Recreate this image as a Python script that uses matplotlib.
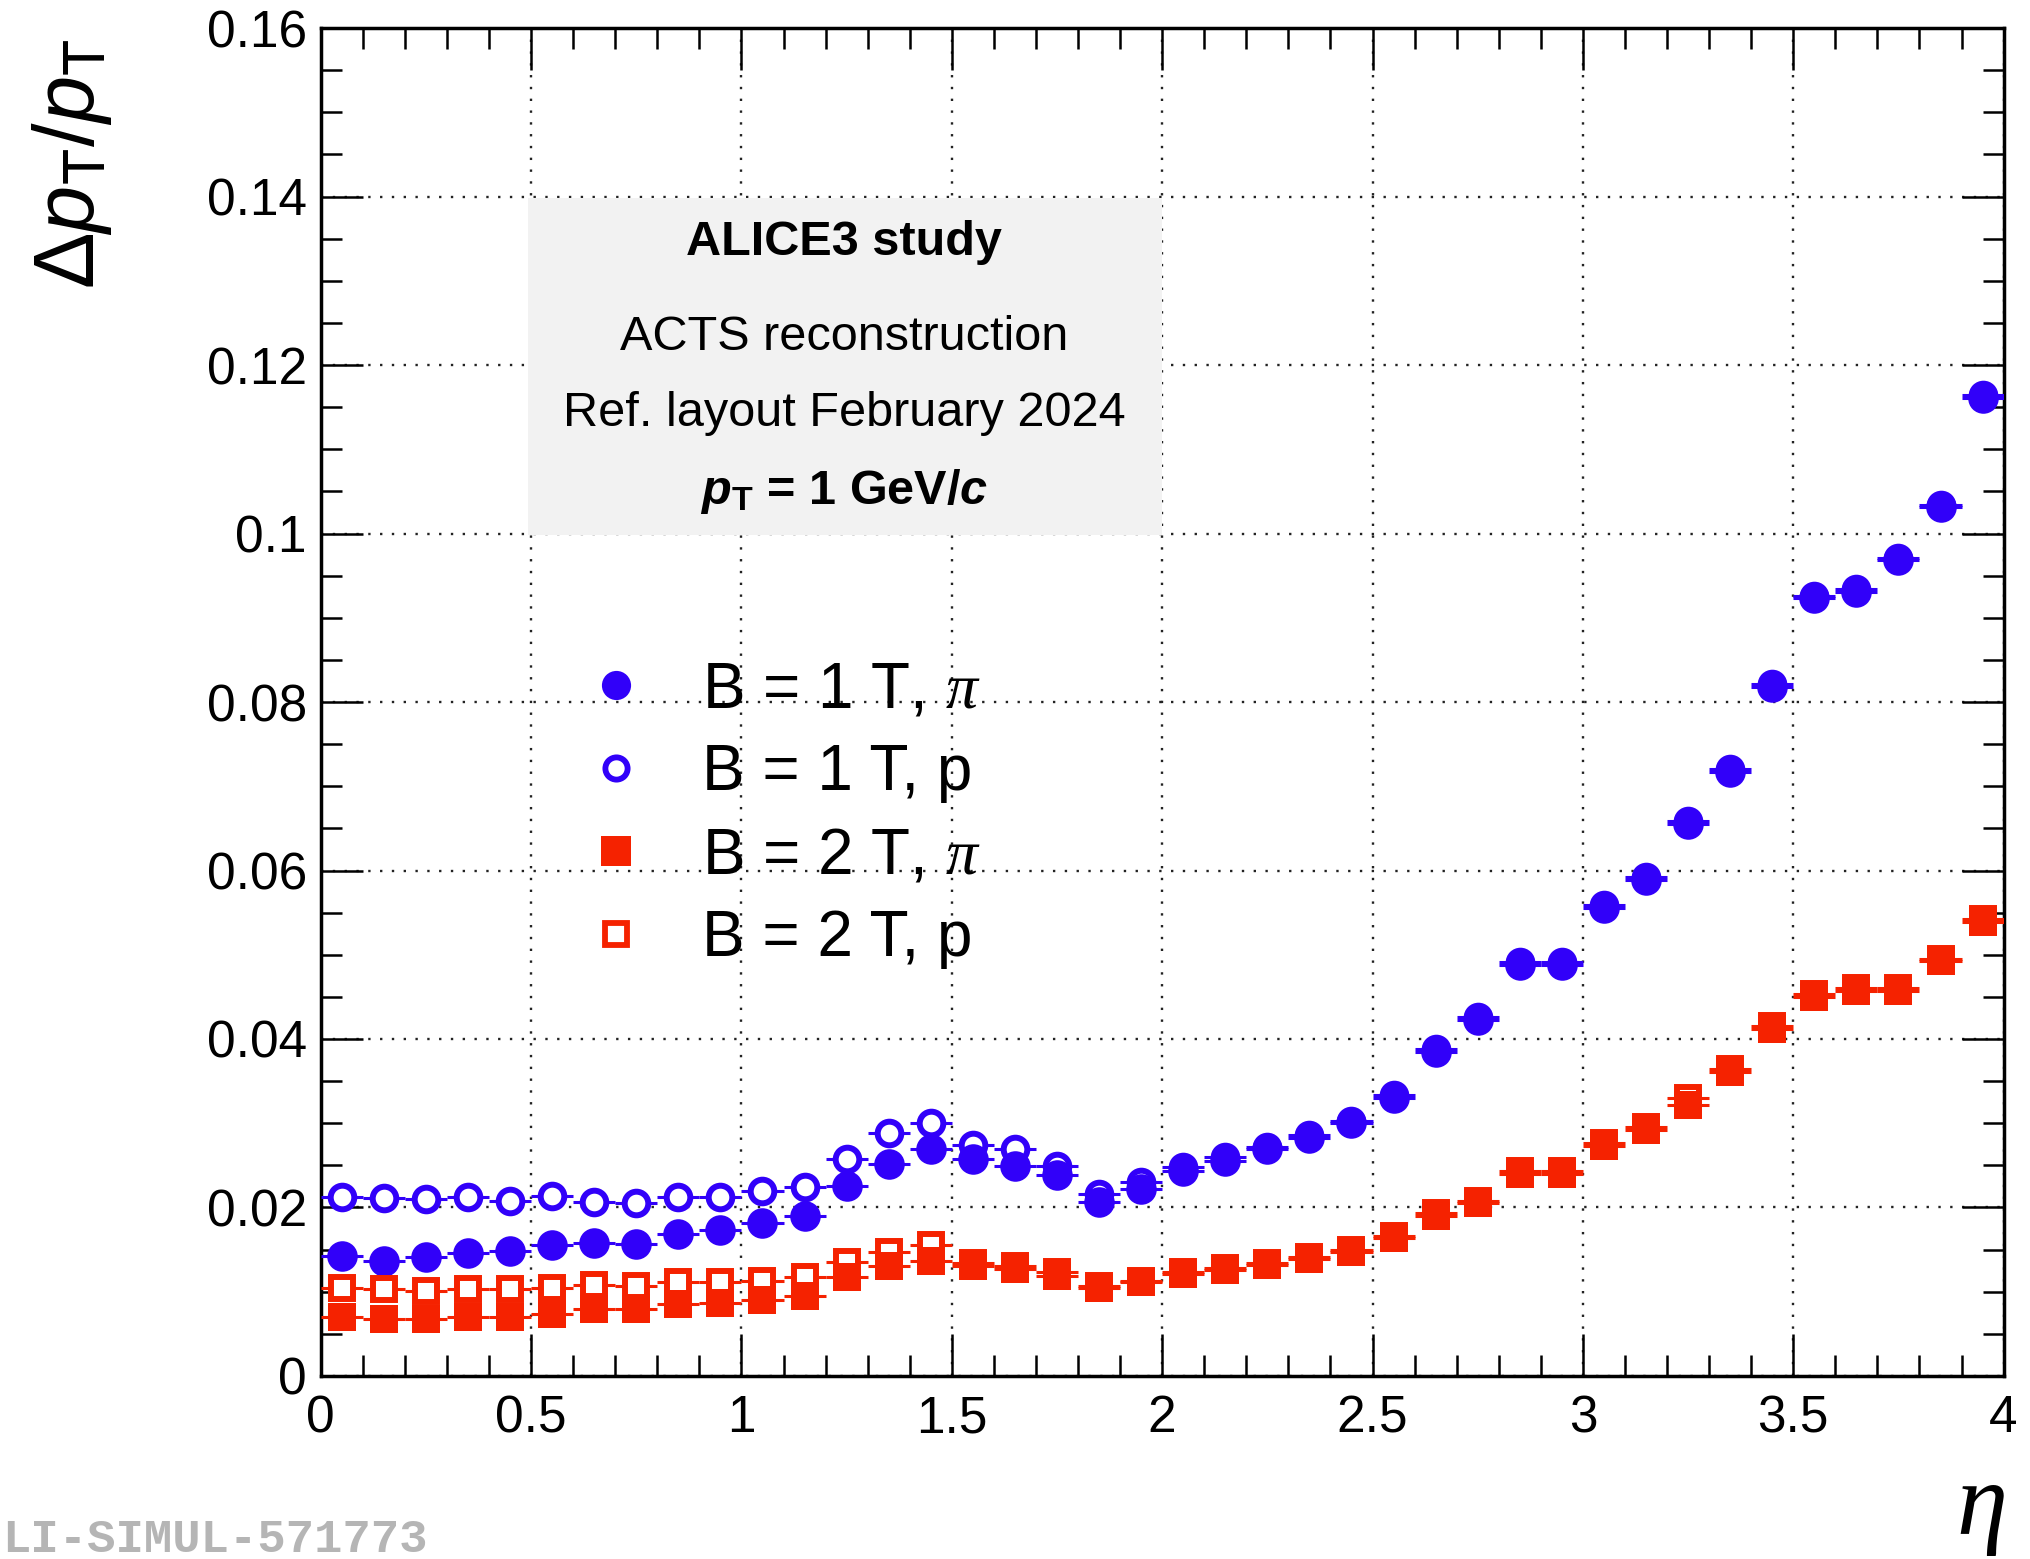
import matplotlib

matplotlib.use("Agg")
import matplotlib.pyplot as plt
from matplotlib.lines import Line2D
from matplotlib.patches import Rectangle
from matplotlib.ticker import FuncFormatter, MultipleLocator


# eta bin centres and half widths
eta = [0.05, 0.15, 0.25, 0.35, 0.45, 0.55, 0.65, 0.75, 0.85, 0.95,
       1.05, 1.15, 1.25, 1.35, 1.45, 1.55, 1.65, 1.75, 1.85, 1.95,
       2.05, 2.15, 2.25, 2.35, 2.45, 2.55, 2.65, 2.75, 2.85, 2.95,
       3.05, 3.15, 3.25, 3.35, 3.45, 3.55, 3.65, 3.75, 3.85, 3.95]
eta_halfwidth = 0.05

# relative pT resolution, B = 1 T
res_b1_pi = [0.0143, 0.0137, 0.0141, 0.0146, 0.0148, 0.0156, 0.0158, 0.0157, 0.0169, 0.0173,
             0.0182, 0.0190, 0.0225, 0.0252, 0.0270, 0.0257, 0.0249, 0.0238, 0.0206, 0.0222,
             0.0243, 0.0255, 0.0269, 0.0283, 0.0300, 0.0330, 0.0385, 0.0423, 0.0488, 0.0488,
             0.0555, 0.0589, 0.0655, 0.0717, 0.0818, 0.0923, 0.0931, 0.0968, 0.1031, 0.1161]
res_b1_p = [0.0213, 0.0211, 0.0210, 0.0212, 0.0208, 0.0214, 0.0206, 0.0205, 0.0212, 0.0212,
            0.0220, 0.0224, 0.0258, 0.0288, 0.0300, 0.0274, 0.0270, 0.0249, 0.0216, 0.0230,
            0.0248, 0.0260, 0.0272, 0.0286, 0.0303, 0.0333, 0.0388, 0.0426, 0.0491, 0.0491,
            0.0559, 0.0592, 0.0659, 0.0720, 0.0821, 0.0926, 0.0934, 0.0971, 0.1034, 0.1164]

# relative pT resolution, B = 2 T
res_b2_pi = [0.0070, 0.0068, 0.0068, 0.0070, 0.0070, 0.0073, 0.0079, 0.0079, 0.0085, 0.0087,
             0.0090, 0.0095, 0.0117, 0.0130, 0.0136, 0.0130, 0.0127, 0.0119, 0.0104, 0.0111,
             0.0121, 0.0126, 0.0132, 0.0139, 0.0147, 0.0164, 0.0190, 0.0205, 0.0240, 0.0240,
             0.0273, 0.0292, 0.0322, 0.0361, 0.0412, 0.0450, 0.0457, 0.0457, 0.0492, 0.0539]
res_b2_p = [0.0105, 0.0103, 0.0101, 0.0103, 0.0103, 0.0105, 0.0108, 0.0107, 0.0111, 0.0111,
            0.0113, 0.0117, 0.0135, 0.0147, 0.0156, 0.0134, 0.0130, 0.0123, 0.0107, 0.0113,
            0.0123, 0.0128, 0.0134, 0.0141, 0.0149, 0.0166, 0.0193, 0.0208, 0.0243, 0.0243,
            0.0276, 0.0295, 0.0330, 0.0364, 0.0415, 0.0453, 0.0460, 0.0460, 0.0495, 0.0542]

labels = [r"B = 1 T, $\pi$", "B = 1 T, p", r"B = 2 T, $\pi$", "B = 2 T, p"]

BLUE = "#3100f9"
RED = "#f52200"

plt.rcParams["font.family"] = ["Liberation Sans", "DejaVu Sans"]
plt.rcParams["mathtext.fontset"] = "custom"
plt.rcParams["mathtext.rm"] = "Liberation Sans"
plt.rcParams["mathtext.it"] = "Liberation Serif:italic"
plt.rcParams["mathtext.bf"] = "Liberation Sans:bold"
plt.rcParams["mathtext.sf"] = "Liberation Sans:italic"
plt.rcParams["mathtext.bfit"] = "Liberation Sans:italic:bold"

fig = plt.figure(figsize=(20.3, 15.59), dpi=100)
ax = fig.add_axes([0.158, 0.1174, 0.829, 0.8646])

ax.set_xlim(0, 4)
ax.set_ylim(0, 0.16)
ax.set_axisbelow(True)
ax.grid(True, which="major", color="#222222", linestyle=(0, (1, 4)), linewidth=1.7)

# text box background
ax.add_patch(Rectangle((0.123, 0.624), 0.377, 0.25, transform=ax.transAxes,
                       facecolor="#f2f2f2", edgecolor="none", zorder=1))

series = [
    (res_b1_p, BLUE, "o", True),
    (res_b1_pi, BLUE, "o", False),
    (res_b2_p, RED, "s", True),
    (res_b2_pi, RED, "s", False),
]
for values, color, marker, hollow in series:
    if hollow:
        ms, mew, mfc = (17, 4.3, "white") if marker == "o" else (15.5, 4.3, "white")
    else:
        ms, mew, mfc = (22, 0, color) if marker == "o" else (20.5, 0, color)
    ax.errorbar(eta, values, xerr=eta_halfwidth, fmt=marker, color=color,
                ms=ms, mew=mew, mfc=mfc, mec=color, elinewidth=2.2, capsize=0, zorder=3)

handles = [
    Line2D([], [], linestyle="none", marker="o", color=BLUE, ms=21, mew=0),
    Line2D([], [], linestyle="none", marker="o", color=BLUE, ms=16, mew=4.2, mfc="white"),
    Line2D([], [], linestyle="none", marker="s", color=RED, ms=21, mew=0),
    Line2D([], [], linestyle="none", marker="s", color=RED, ms=16, mew=4.2, mfc="white"),
]
ax.legend(handles, labels, loc="upper left", bbox_to_anchor=(0.1575, 0.531),
          frameon=False, fontsize=46, handlelength=0.96, handletextpad=0.86,
          labelspacing=0.36, borderpad=0, borderaxespad=0)

# ticks, ROOT style
ax.xaxis.set_major_locator(MultipleLocator(0.5))
ax.xaxis.set_minor_locator(MultipleLocator(0.1))
ax.yaxis.set_major_locator(MultipleLocator(0.02))
ax.yaxis.set_minor_locator(MultipleLocator(0.005))
fmt = FuncFormatter(lambda v, _: f"{v:g}")
ax.xaxis.set_major_formatter(fmt)
ax.yaxis.set_major_formatter(fmt)
ax.tick_params(which="both", direction="in", top=True, right=True, width=1.8)
ax.tick_params(which="major", length=30, labelsize=37)
ax.tick_params(which="minor", length=15)
ax.tick_params(axis="y", which="major", pad=10)
ax.tick_params(axis="x", which="major", pad=13)
for spine in ax.spines.values():
    spine.set_linewidth(2.5)

# header text
cx = 0.311
ax.text(cx, 0.832, "ALICE3 study", transform=ax.transAxes, ha="center", va="baseline",
        fontsize=35, fontweight="bold", zorder=4)
ax.text(cx, 0.7615, "ACTS reconstruction", transform=ax.transAxes, ha="center",
        va="baseline", fontsize=35, zorder=4)
ax.text(cx, 0.7047, "Ref. layout February 2024", transform=ax.transAxes, ha="center",
        va="baseline", fontsize=35, zorder=4)
ax.text(cx, 0.647, r"$\mathbfit{p}_{\mathbf{T}}$ = 1 GeV/$\mathbfit{c}$", transform=ax.transAxes,
        ha="center", va="baseline", fontsize=35, fontweight="bold", zorder=4)

# axis titles
fig.text(94 / 2030, 1 - 38 / 1559, r"Δ$\mathsf{p}_{\mathrm{T}}$/$\mathsf{p}_{\mathrm{T}}$",
         rotation=90, rotation_mode="anchor", ha="right", va="baseline", fontsize=61)
fig.text(0.9887, 0.016, "η", ha="right", va="baseline", fontsize=74,
         family="Liberation Serif", style="italic")

fig.text(0.001, 0.0045, "LI-SIMUL-571773", ha="left", va="baseline", fontsize=34,
         family="Liberation Mono", fontweight="bold", color="#b5b5b5")

fig.savefig("out.png", dpi=100)
